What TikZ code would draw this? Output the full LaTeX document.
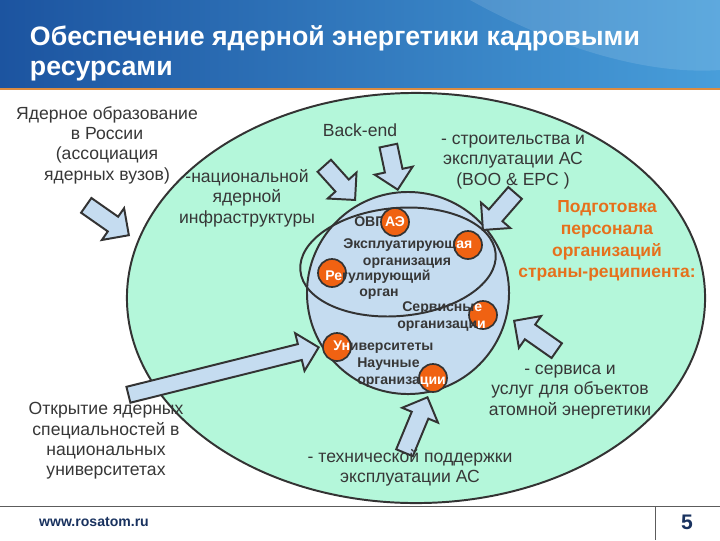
\documentclass[tikz,border=0pt]{standalone}
\usepackage{fontspec}
\setmainfont{Liberation Sans}
\usetikzlibrary{shapes.geometric,shapes.arrows}

\definecolor{mint}{RGB}{180,247,218}
\definecolor{paleblue}{RGB}{197,220,240}
\definecolor{dotorange}{RGB}{240,98,18}
\definecolor{edge}{RGB}{51,51,51}
\definecolor{txtgray}{RGB}{55,55,55}
\definecolor{trainorange}{RGB}{230,112,28}
\definecolor{navy}{RGB}{25,50,95}
\definecolor{bannerdark}{RGB}{28,84,160}
\definecolor{bannerlight}{RGB}{72,158,218}
\definecolor{stripe}{RGB}{220,140,65}

\begin{document}
\begin{tikzpicture}[x=0.025cm, y=-0.025cm,
zone/.style={ellipse, draw=edge, line width=1.4pt, inner sep=0pt},
core/.style={circle, draw=edge, fill=paleblue, line width=1.4pt, inner sep=0pt, minimum size=5.05cm},
orgdot/.style={circle, draw=edge, fill=dotorange, line width=1.2pt, inner sep=0pt, minimum size=0.7cm},
push/.style={single arrow, draw=edge, fill=paleblue, line width=1.4pt, inner xsep=0pt, inner ysep=0.2cm, single arrow head extend=0.26cm, minimum width=0pt, anchor=tip},
note/.style={text=txtgray, align=center, font=\fontsize{12.5}{14.5}\selectfont},
orgtext/.style={text=txtgray, font=\bfseries\fontsize{10}{12.8}\selectfont, inner sep=0pt}
]
\useasboundingbox (0,0) rectangle (720,540);
\fill[white] (0,0) rectangle (720,540);

% header
\shade[left color=bannerdark, right color=bannerlight] (0,0) rectangle (720,88);
\fill[white, opacity=0.12] (470,0) .. controls (560,50) and (650,75) .. (720,70) -- (720,0) -- cycle;
\draw[stripe, line width=2pt] (0,89) -- (720,89);
\node[text=white, anchor=west, align=left, font=\bfseries\fontsize{19}{21.4}\selectfont] (title) at (25,53)
  {Обеспечение ядерной энергетики кадровыми\\ресурсами};

% circles
\node[zone, fill=mint, minimum width=14.45cm, minimum height=10.25cm] (field) at (416,298) {};
\node[core] (center) at (408,293) {};
\node[zone, rotate=5, minimum width=4.9cm, minimum height=2.7cm] (ops) at (398,262) {};

% dots
\node[orgdot] (dExpl) at (468,245) {};
\node[orgdot] (dReg) at (332,273) {};
\node[orgdot] (dServ) at (483,315) {};
\node[orgdot] (dUni) at (337,347) {};
\node[orgdot] (dSci) at (433,378) {};

% organisations
\node[orgtext, anchor=west] (ovp) at (354,222) {ОВП};
\node[orgdot, text=white, font=\bfseries\fontsize{10}{12}\selectfont] (dAE) at (395,222) {АЭ};
\node[orgtext, anchor=west] (expl) at (343,245) {Эксплуатирующ{\color{white}ая}};
\node[orgtext] (explB) at (407,263) {организация};
\node[orgtext, anchor=west] (reg) at (325,277) {{\color{white}Ре}гулирующий};
\node[orgtext] (regB) at (379,294) {орган};
\node[orgtext, anchor=west] (serv) at (402,308) {Сервисны{\color{white}е}};
\node[orgtext, anchor=west] (servB) at (397,326) {организаци{\color{white}и}};
\node[orgtext, anchor=west] (uni) at (333,347) {{\color{white}Ун}иверситеты};
\node[orgtext, anchor=west] (sci) at (357,364) {Научные};
\node[orgtext, anchor=west] (sciB) at (357,382) {организа{\color{white}ции}};

% arrows
\node[push, rotate=-35, minimum height=1.3cm] (eduArrow) at (130,236) {};
\node[push, rotate=-48, minimum height=1.15cm] (infraArrow) at (356,201) {};
\node[push, rotate=-78, minimum height=1.125cm] (backArrow) at (398,191) {};
\node[push, rotate=-131, minimum height=1.225cm] (buildArrow) at (482,231) {};
\node[push, rotate=145, minimum height=1.3cm] (serviceArrow) at (513,320) {};
\node[push, rotate=67.5, minimum height=1.5cm] (techArrow) at (428,396) {};
\node[push, rotate=14, minimum height=4.9cm, inner ysep=0.18cm, single arrow head extend=0.28cm] (openArrow) at (320,347) {};

% texts
\node[note] (edu) at (107,145) {Ядерное образование\\в России\\(ассоциация\\ядерных вузов)};
\node[note] (infra) at (247,198) {-национальной\\ядерной\\инфраструктуры};
\node[note] (backend) at (360,130) {Back-end};
\node[note] (build) at (513,162) {- строительства и\\эксплуатации АС\\(BOO \& EPC )};
\node[note, text=trainorange, font=\bfseries\fontsize{12.4}{15.4}\selectfont] (train) at (607,241)
  {Подготовка\\персонала\\организаций\\страны-реципиента:};
\node[note] (service) at (570,392) {- сервиса и\\услуг для объектов\\атомной энергетики};
\node[note] (tech) at (410,468) {- технической поддержки\\эксплуатации АС};
\node[note] (open) at (106,441) {Открытие ядерных\\специальностей в\\национальных\\университетах};

% footer
\draw[edge!80, line width=0.6pt] (0,506) -- (720,506) (655,506) -- (655,540);
\node[text=navy, font=\bfseries\fontsize{10}{12}\selectfont] (site) at (94,522) {www.rosatom.ru};
\node[text=navy, font=\bfseries\fontsize{15}{18}\selectfont] (page) at (687,522) {5};
\end{tikzpicture}
\end{document}
